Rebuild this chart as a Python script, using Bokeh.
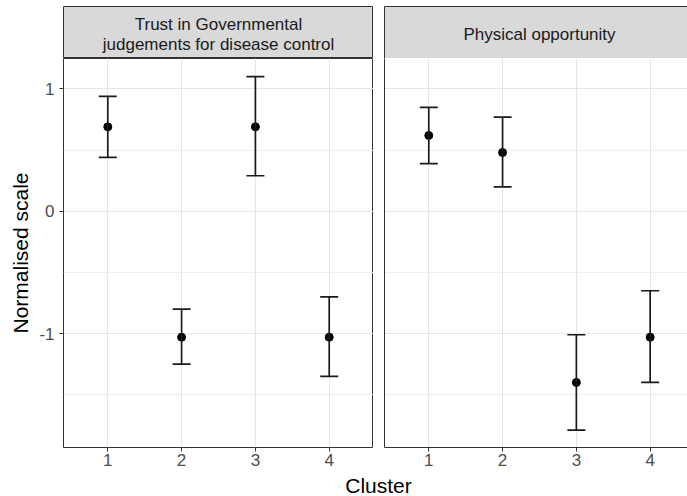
from bokeh.plotting import figure
from bokeh.models import (FixedTicker, Range1d, Whisker, ColumnDataSource,
                          TeeHead, LinearAxis)
from bokeh.layouts import column, row
from bokeh.embed import file_html
from bokeh.resources import INLINE
from bokeh.core.properties import value

# ---- data -------------------------------------------------------------
clusters = [1, 2, 3, 4]
cluster_labels = ["1", "2", "3", "4"]
facet_titles = ["Trust in Governmental\njudgements for disease control",
                "Physical opportunity"]

trust_mean = [0.69, -1.03, 0.69, -1.03]
trust_lower = [0.44, -1.25, 0.29, -1.35]
trust_upper = [0.94, -0.80, 1.10, -0.70]

phys_mean = [0.62, 0.48, -1.40, -1.03]
phys_lower = [0.39, 0.20, -1.79, -1.40]
phys_upper = [0.85, 0.77, -1.01, -0.65]

y_ticks = [-1, 0, 1]
y_minor = [-1.5, -0.5, 0.5]
y_tick_labels = ["-1", "0", "1"]

# ---- styling ----------------------------------------------------------
FONT = value("Liberation Sans")
BORDER = "#333333"
STRIP_FILL = "#d9d9d9"
GRID_MAJOR = "#e6e6e6"
GRID_MINOR = "#eeeeee"
TICK_TEXT = "#4d4d4d"
INK = "#1a1a1a"

LEFT_W, RIGHT_W = 373, 314
TOTAL_W = LEFT_W + RIGHT_W
LEFT_PAD, GAP = 63, 11
STRIP_H, STRIP_TOP = 58, 6
PANEL_FRAME_H, PANEL_BOTTOM = 389, 28
PANEL_H = PANEL_FRAME_H + PANEL_BOTTOM
XLAB_H = 496 - STRIP_H - PANEL_H
XLAB_CENTER = 378

y_range = Range1d(-1.932, 1.249)
x_left = Range1d(0.4, 4.6)
x_right = Range1d(0.4, 4.506)
x_mid = (clusters[0] + clusters[-1]) / 2


def edge_axis():
    """A bare axis line used as a panel edge."""
    return LinearAxis(ticker=FixedTicker(ticks=[]), axis_line_color=BORDER,
                      axis_line_width=1, major_tick_out=0, major_tick_in=0,
                      minor_tick_out=0, minor_tick_in=0,
                      major_label_standoff=0, axis_label=None)


def strip(width, pad_left, x_range, title, closed):
    s = figure(width=width, height=STRIP_H, x_range=x_range, y_range=Range1d(0, 1),
               min_border_left=pad_left, min_border_right=0,
               min_border_top=STRIP_TOP, min_border_bottom=0,
               toolbar_location=None, output_backend="svg",
               x_axis_location=None, y_axis_location=None)
    s.background_fill_color = STRIP_FILL
    s.border_fill_color = "white"
    for g in s.grid:
        g.visible = False
    if closed:
        s.outline_line_color = BORDER
        s.outline_line_width = 1
    else:
        # open on the right: the other three edges are bare axis lines
        s.outline_line_color = None
        for loc in ("left", "above", "below"):
            s.add_layout(edge_axis(), loc)
    s.text(x=[x_mid], y=[0.46], text=[title], text_align="center",
           text_baseline="middle", text_font=FONT, text_font_size="17px",
           text_color=INK, text_line_height=1.02)
    return s


def panel(width, pad_left, x_range, mean, lower, upper, show_y):
    p = figure(width=width, height=PANEL_H, x_range=x_range, y_range=y_range,
               min_border_left=pad_left, min_border_right=0,
               min_border_top=0, min_border_bottom=PANEL_BOTTOM,
               toolbar_location=None, output_backend="svg")
    p.background_fill_color = "white"

    p.xaxis.ticker = FixedTicker(ticks=clusters)
    p.xaxis.major_label_overrides = dict(zip(clusters, cluster_labels))
    p.xgrid.ticker = FixedTicker(ticks=clusters)
    p.ygrid.ticker = FixedTicker(ticks=y_ticks, minor_ticks=y_minor)
    for g in p.grid:
        g.grid_line_color = GRID_MAJOR
        g.grid_line_width = 1
    p.ygrid.minor_grid_line_color = GRID_MINOR
    p.ygrid.minor_grid_line_width = 1

    for ax in p.axis:
        ax.major_tick_line_color = BORDER
        ax.major_tick_out = 4
        ax.major_tick_in = 0
        ax.minor_tick_line_color = None
        ax.major_label_text_font = "Liberation Sans"
        ax.major_label_text_font_size = "17px"
        ax.major_label_text_color = TICK_TEXT
    p.xaxis.major_label_standoff = 2

    if show_y:
        p.outline_line_color = BORDER
        p.outline_line_width = 1
        for ax in p.axis:
            ax.axis_line_color = None
        p.yaxis.ticker = FixedTicker(ticks=y_ticks, minor_ticks=y_minor)
        p.yaxis.major_label_overrides = dict(zip(y_ticks, y_tick_labels))
        p.yaxis.major_label_standoff = 5
        p.yaxis.axis_label = "Normalised scale"
        p.yaxis.axis_label_text_font = "Liberation Sans"
        p.yaxis.axis_label_text_font_size = "21px"
        p.yaxis.axis_label_text_font_style = "normal"
        p.yaxis.axis_label_text_color = "black"
        p.yaxis.axis_label_standoff = 4
    else:
        # panel runs off the right edge: only left and bottom edges drawn
        p.outline_line_color = None
        p.xaxis.axis_line_color = BORDER
        p.xaxis.axis_line_width = 1
        p.yaxis.ticker = FixedTicker(ticks=[])
        p.yaxis.axis_line_color = BORDER
        p.yaxis.axis_line_width = 1
        p.yaxis.major_tick_out = 0
        p.yaxis.major_label_standoff = 0

    src = ColumnDataSource(dict(x=clusters, mean=mean, lower=lower, upper=upper))
    whisk = Whisker(source=src, base="x", upper="upper", lower="lower",
                    line_color=INK, line_width=1.7, level="glyph",
                    upper_head=TeeHead(size=18, line_color=INK, line_width=1.7),
                    lower_head=TeeHead(size=18, line_color=INK, line_width=1.7))
    p.add_layout(whisk)
    p.scatter("x", "mean", source=src, size=8, color="black")
    return p


strip_l = strip(LEFT_W, LEFT_PAD, x_left, facet_titles[0], True)
strip_r = strip(RIGHT_W, GAP, x_right, facet_titles[1], False)
panel_l = panel(LEFT_W, LEFT_PAD, x_left, trust_mean, trust_lower, trust_upper, True)
panel_r = panel(RIGHT_W, GAP, x_right, phys_mean, phys_lower, phys_upper, False)

# shared x-axis title under both panels
xlab = figure(width=TOTAL_W, height=XLAB_H, toolbar_location=None,
              output_backend="svg", x_axis_location=None, y_axis_location=None,
              min_border_left=0, min_border_right=0, min_border_top=0,
              min_border_bottom=0,
              x_range=Range1d(0, TOTAL_W), y_range=Range1d(0, XLAB_H))
xlab.outline_line_color = None
for g in xlab.grid:
    g.visible = False
xlab.text(x=[XLAB_CENTER], y=[0], text=["Cluster"], text_align="center",
          text_baseline="bottom", text_font=FONT, text_font_size="21px",
          text_color="black")

layout = column(row(strip_l, strip_r), row(panel_l, panel_r), xlab)

with open("out.html", "w") as f:
    f.write(file_html(layout, INLINE))
